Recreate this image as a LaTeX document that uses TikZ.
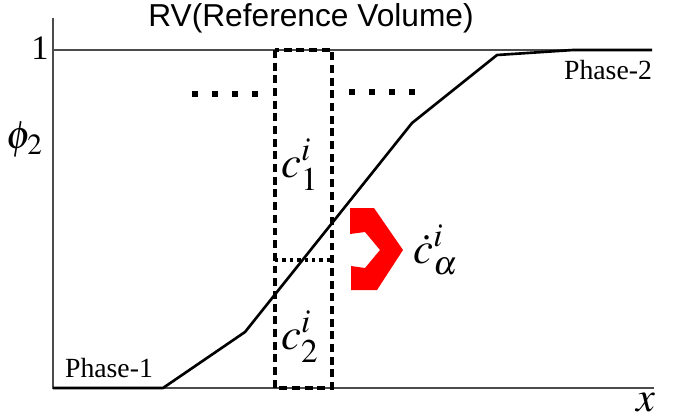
\documentclass[tikz,border=0pt]{standalone}
\usepackage{mathptmx}
\usepackage{fontspec}
\setmainfont{Liberation Serif}
\newfontfamily\titlefont{Liberation Sans}

\begin{document}
\begin{tikzpicture}[
  x=0.0133cm, y=-0.0133cm,
  axis/.style={draw=black!70,line width=0.5pt},
  rvbox/.style={draw,line width=1.3pt,dash pattern=on 3pt off 1.8pt},
  profile/.style={draw,line width=1pt,line join=round},
  dots/.style={draw,line width=2.3pt,dash pattern=on 2.3pt off 5.3pt},
  phase/.style={font=\fontsize{10.5}{12}\selectfont,inner sep=0pt},
  conc/.style={font=\fontsize{17}{20}\selectfont,inner sep=0pt}
]
  \useasboundingbox (0,0) rectangle (691,419);
  % axes
  \coordinate (org) at (53,388);
  \coordinate (ytop) at (53,18);
  \coordinate (xend) at (654,388);
  \coordinate (one) at (53,50);
  \coordinate (oneend) at (652,50);
  \draw[axis] (ytop) -- (org) -- (xend);
  \draw[axis] (one) -- (oneend);
  \node[font=\fontsize{13}{15}\selectfont,inner sep=0pt] (onelbl) at (40,48) {1};
  \node[inner sep=0pt,font=\fontsize{15}{18}\selectfont] (phi) at (25,140) {$\phi_2$};
  \node[inner sep=0pt,font=\fontsize{16}{18}\selectfont] (xlbl) at (646,403) {$x$};
  \node[font=\titlefont\fontsize{12}{14}\selectfont,inner sep=0pt] (title) at (311,18) {RV(Reference Volume)};
  % reference volume
  \coordinate (boxnw) at (275,50);
  \coordinate (boxse) at (332,388);
  \draw[rvbox] (boxnw) rectangle (boxse);
  \coordinate (midw) at (275,260);
  \coordinate (mide) at (332,260);
  \draw[line width=1.2pt,dash pattern=on 1.3pt off 1.5pt] (midw) -- (mide);
  \node[conc] (c1) at (300,165) {$c_1^i$};
  \node[conc] (c2) at (300,337) {$c_2^i$};
  % neighbouring volumes
  \coordinate (dl1) at (192,94);
  \coordinate (dl2) at (262,94);
  \coordinate (dr1) at (349,92);
  \coordinate (dr2) at (419,92);
  \draw[dots] (dl1) -- (dl2);
  \draw[dots] (dr1) -- (dr2);
  % phase-field profile
  \draw[profile] (org) -- (163,388) -- (245,332) -- (412,123) -- (497,55)
    -- (573,50) -- (oneend);
  \node[phase] (ph1) at (109,368) {Phase-1};
  \node[phase] (ph2) at (608,70) {Phase-2};
  % exchange flux
  \fill[red] (350,208) -- (374,208) -- (403,250) -- (377,290) -- (351,290)
    -- (351,266) -- (365,268) -- (380,250) -- (365,232) -- (350,234) -- cycle;
  \node[conc] (flux) at (436,250) {$\dot{c}_\alpha^i$};
\end{tikzpicture}
\end{document}
